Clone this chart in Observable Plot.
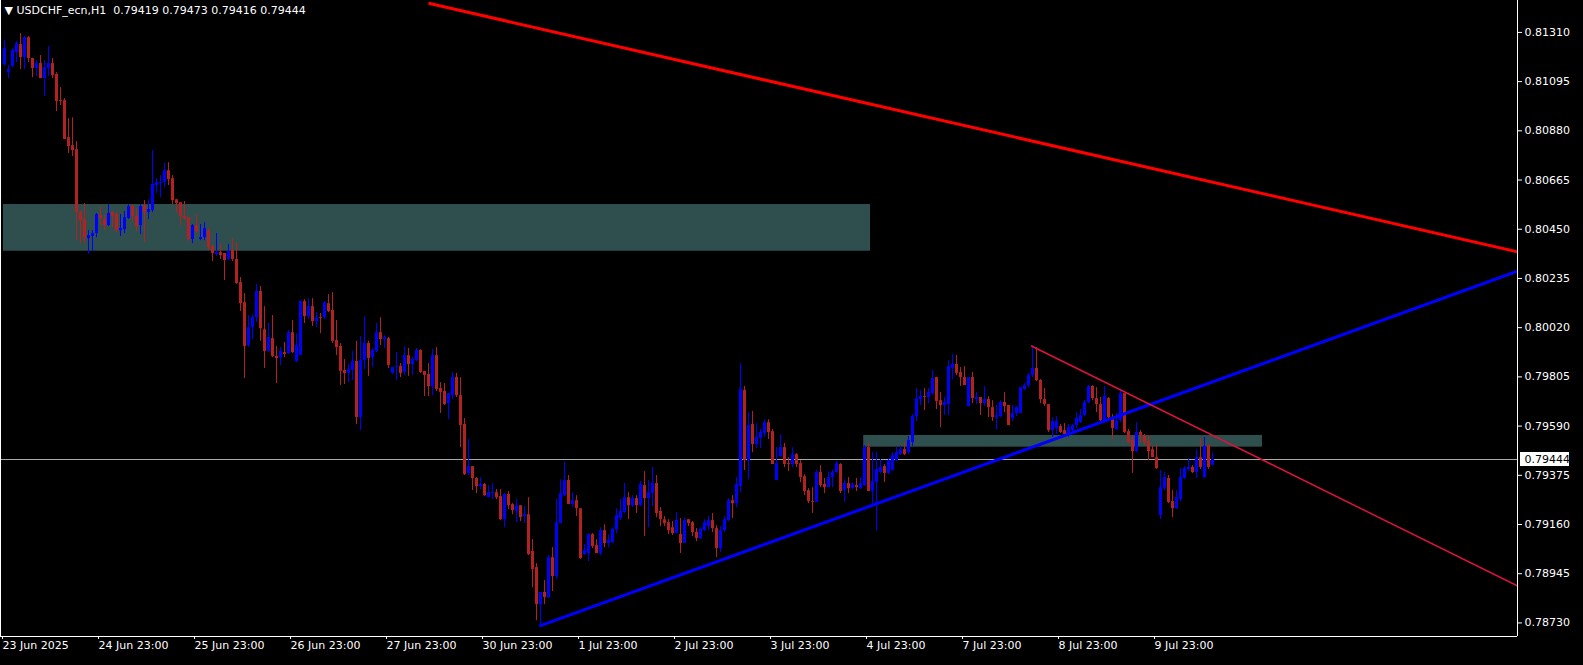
<!DOCTYPE html>
<html><head><meta charset="utf-8">
<script src="https://cdn.jsdelivr.net/npm/d3@7"></script>
<script src="https://cdn.jsdelivr.net/npm/@observablehq/plot@0.6"></script>
<style>
html,body{margin:0;padding:0;background:#000;overflow:hidden}
#chart svg{display:block}
</style></head><body><div id="chart"></div>
<script>
const headerText = "▼\u00a0USDCHF_ecn,H1\u00a0\u00a00.79419\u00a00.79473\u00a00.79416\u00a00.79444";

const openP = [
0.81170,0.81134,0.81161,0.81222,0.81257,0.81200,0.81287,0.81196,0.81152,0.81174,
0.81108,0.81152,0.81174,0.81126,0.81012,0.81012,0.80850,0.80815,0.80798,0.80523,
0.80492,0.80409,0.80418,0.80431,0.80510,0.80492,0.80466,0.80523,0.80514,0.80444,
0.80448,0.80497,0.80553,0.80506,0.80466,0.80553,0.80523,0.80532,0.80641,0.80650,
0.80654,0.80706,0.80671,0.80579,0.80566,0.80506,0.80501,0.80405,0.80466,0.80405,
0.80413,0.80444,0.80374,0.80340,0.80348,0.80344,0.80318,0.80357,0.80318,0.80217,
0.80129,0.79942,0.80020,0.80064,0.80178,0.80011,0.79916,0.79972,0.79894,0.79889,
0.79911,0.79907,0.79998,0.79872,0.79898,0.80134,0.80068,0.80112,0.80046,0.80064,
0.80064,0.80125,0.80095,0.79964,0.79938,0.79833,0.79820,0.79833,0.79872,0.79627,
0.79876,0.79951,0.79889,0.79916,0.79998,0.79968,0.79972,0.79820,0.79846,0.79850,
0.79824,0.79898,0.79859,0.79876,0.79920,0.79829,0.79816,0.79763,0.79898,0.79754,
0.79741,0.79688,0.79723,0.79802,0.79723,0.79597,0.79383,0.79413,0.79361,0.79326,
0.79335,0.79277,0.79295,0.79299,0.79282,0.79181,0.79291,0.79247,0.79217,0.79242,
0.79195,0.79203,0.79042,0.78972,0.78810,0.78863,0.78841,0.79015,0.78933,0.79164,
0.79286,0.79352,0.79247,0.79264,0.79229,0.79029,0.79033,0.79116,0.79068,0.79033,
0.79133,0.79077,0.79081,0.79138,0.79186,0.79212,0.79277,0.79242,0.79273,0.79242,
0.79330,0.79273,0.79295,0.79339,0.79217,0.79181,0.79168,0.79146,0.79120,0.79116,
0.79077,0.79181,0.79168,0.79125,0.79099,0.79133,0.79151,0.79177,0.79142,0.79055,
0.79133,0.79177,0.79264,0.79251,0.79326,0.79745,0.79439,0.79597,0.79509,0.79536,
0.79557,0.79605,0.79566,0.79352,0.79457,0.79496,0.79426,0.79422,0.79465,0.79426,
0.79369,0.79308,0.79260,0.79256,0.79387,0.79335,0.79321,0.79365,0.79387,0.79422,
0.79308,0.79339,0.79317,0.79330,0.79317,0.79330,0.79496,0.79304,0.79343,0.79387,
0.79413,0.79383,0.79396,0.79439,0.79465,0.79487,0.79474,0.79518,0.79631,0.79706,
0.79719,0.79715,0.79732,0.79802,0.79701,0.79680,0.79684,0.79842,0.79859,0.79824,
0.79802,0.79675,0.79802,0.79706,0.79715,0.79688,0.79706,0.79671,0.79627,0.79631,
0.79693,0.79680,0.79623,0.79645,0.79645,0.79750,0.79767,0.79811,0.79842,0.79789,
0.79706,0.79684,0.79570,0.79579,0.79588,0.79570,0.79553,0.79570,0.79592,0.79605,
0.79636,0.79693,0.79763,0.79710,0.79684,0.79614,0.79710,0.79627,0.79575,0.79614,
0.79732,0.79566,0.79527,0.79479,0.79562,0.79549,0.79522,0.79487,0.79452,0.79199,
0.79317,0.79361,0.79260,0.79229,0.79269,0.79361,0.79400,0.79409,0.79387,0.79452,
0.79365,0.79505,0.79419];

const highP = [
0.81274,0.81165,0.81239,0.81270,0.81305,0.81292,0.81292,0.81196,0.81187,0.81209,
0.81187,0.81248,0.81196,0.81134,0.81069,0.81021,0.80933,0.80937,0.80833,0.80532,
0.80562,0.80444,0.80444,0.80519,0.80549,0.80510,0.80558,0.80527,0.80523,0.80514,
0.80527,0.80558,0.80553,0.80540,0.80558,0.80575,0.80579,0.80794,0.80671,0.80684,
0.80737,0.80741,0.80684,0.80579,0.80566,0.80571,0.80501,0.80471,0.80514,0.80471,
0.80479,0.80453,0.80379,0.80431,0.80383,0.80344,0.80383,0.80409,0.80391,0.80239,
0.80169,0.80073,0.80073,0.80209,0.80200,0.80112,0.80038,0.80073,0.79938,0.79933,
0.79955,0.80007,0.80051,0.79994,0.80138,0.80142,0.80147,0.80147,0.80086,0.80082,
0.80134,0.80165,0.80173,0.80051,0.79951,0.79881,0.79859,0.79916,0.79960,0.79981,
0.80068,0.79960,0.79929,0.80038,0.80064,0.79985,0.79977,0.79846,0.79911,0.79863,
0.79938,0.79929,0.79889,0.79929,0.79924,0.79829,0.79863,0.79924,0.79933,0.79780,
0.79776,0.79732,0.79824,0.79820,0.79802,0.79623,0.79531,0.79413,0.79365,0.79365,
0.79339,0.79330,0.79339,0.79313,0.79313,0.79295,0.79304,0.79251,0.79269,0.79242,
0.79238,0.79277,0.79094,0.78989,0.78863,0.78915,0.79024,0.79059,0.79269,0.79356,
0.79431,0.79374,0.79299,0.79286,0.79229,0.79072,0.79120,0.79120,0.79094,0.79146,
0.79159,0.79112,0.79146,0.79229,0.79269,0.79339,0.79299,0.79286,0.79286,0.79348,
0.79391,0.79352,0.79409,0.79374,0.79234,0.79195,0.79181,0.79173,0.79212,0.79186,
0.79190,0.79181,0.79173,0.79142,0.79146,0.79181,0.79195,0.79208,0.79155,0.79151,
0.79195,0.79273,0.79286,0.79365,0.79863,0.79763,0.79649,0.79654,0.79601,0.79575,
0.79618,0.79618,0.79575,0.79496,0.79553,0.79514,0.79452,0.79496,0.79470,0.79439,
0.79378,0.79317,0.79321,0.79396,0.79417,0.79361,0.79391,0.79396,0.79435,0.79426,
0.79356,0.79365,0.79343,0.79361,0.79365,0.79505,0.79518,0.79474,0.79474,0.79444,
0.79422,0.79448,0.79474,0.79496,0.79501,0.79518,0.79544,0.79640,0.79754,0.79745,
0.79754,0.79754,0.79833,0.79802,0.79737,0.79715,0.79876,0.79903,0.79898,0.79846,
0.79850,0.79802,0.79824,0.79737,0.79715,0.79763,0.79719,0.79701,0.79680,0.79701,
0.79737,0.79680,0.79680,0.79675,0.79758,0.79776,0.79820,0.79942,0.79933,0.79793,
0.79754,0.79684,0.79627,0.79631,0.79597,0.79601,0.79597,0.79597,0.79649,0.79662,
0.79701,0.79767,0.79767,0.79758,0.79715,0.79763,0.79715,0.79640,0.79645,0.79750,
0.79732,0.79575,0.79549,0.79605,0.79570,0.79553,0.79549,0.79501,0.79509,0.79396,
0.79387,0.79374,0.79308,0.79308,0.79404,0.79413,0.79448,0.79417,0.79487,0.79536,
0.79540,0.79509,0.79473];

const lowP = [
0.81161,0.81108,0.81156,0.81178,0.81148,0.81148,0.81178,0.81112,0.81117,0.81108,
0.81030,0.81117,0.81108,0.80964,0.80990,0.80842,0.80781,0.80768,0.80400,0.80387,
0.80387,0.80340,0.80353,0.80413,0.80466,0.80444,0.80462,0.80457,0.80435,0.80418,
0.80431,0.80492,0.80484,0.80440,0.80426,0.80391,0.80492,0.80523,0.80606,0.80588,
0.80632,0.80641,0.80558,0.80523,0.80466,0.80488,0.80396,0.80387,0.80431,0.80400,
0.80400,0.80357,0.80309,0.80331,0.80318,0.80226,0.80313,0.80309,0.80209,0.80091,
0.79798,0.79933,0.79968,0.80042,0.79960,0.79842,0.79911,0.79889,0.79776,0.79854,
0.79889,0.79903,0.79907,0.79867,0.79898,0.80038,0.80055,0.80025,0.80020,0.79994,
0.80055,0.80086,0.79951,0.79898,0.79767,0.79772,0.79780,0.79789,0.79597,0.79570,
0.79837,0.79807,0.79846,0.79911,0.79942,0.79929,0.79842,0.79816,0.79789,0.79802,
0.79811,0.79807,0.79811,0.79872,0.79820,0.79719,0.79719,0.79723,0.79741,0.79645,
0.79680,0.79618,0.79706,0.79715,0.79496,0.79374,0.79374,0.79308,0.79295,0.79313,
0.79282,0.79277,0.79269,0.79269,0.79177,0.79146,0.79225,0.79203,0.79168,0.79173,
0.79164,0.79024,0.78884,0.78740,0.78714,0.78810,0.78837,0.78867,0.78920,0.79164,
0.79282,0.79247,0.79234,0.79195,0.79007,0.79024,0.78998,0.79055,0.79033,0.79024,
0.79059,0.79059,0.79077,0.79120,0.79177,0.79208,0.79181,0.79234,0.79208,0.79238,
0.79107,0.79146,0.79238,0.79190,0.79151,0.79151,0.79116,0.79112,0.79120,0.79033,
0.79077,0.79151,0.79107,0.79085,0.79094,0.79129,0.79133,0.79125,0.79015,0.79037,
0.79125,0.79173,0.79186,0.79234,0.79299,0.79396,0.79356,0.79474,0.79492,0.79492,
0.79540,0.79531,0.79422,0.79352,0.79452,0.79409,0.79391,0.79409,0.79409,0.79343,
0.79286,0.79251,0.79208,0.79256,0.79321,0.79295,0.79321,0.79321,0.79383,0.79295,
0.79256,0.79295,0.79313,0.79304,0.79313,0.79326,0.79304,0.79247,0.79133,0.79383,
0.79343,0.79378,0.79391,0.79435,0.79461,0.79461,0.79465,0.79501,0.79610,0.79680,
0.79658,0.79688,0.79723,0.79662,0.79583,0.79636,0.79636,0.79793,0.79811,0.79763,
0.79767,0.79675,0.79688,0.79684,0.79636,0.79675,0.79627,0.79610,0.79575,0.79627,
0.79649,0.79592,0.79610,0.79631,0.79645,0.79745,0.79758,0.79802,0.79785,0.79688,
0.79675,0.79562,0.79540,0.79553,0.79557,0.79544,0.79540,0.79562,0.79579,0.79601,
0.79631,0.79688,0.79701,0.79649,0.79605,0.79610,0.79623,0.79531,0.79570,0.79605,
0.79557,0.79514,0.79383,0.79474,0.79518,0.79505,0.79439,0.79452,0.79400,0.79181,
0.79308,0.79251,0.79190,0.79225,0.79260,0.79356,0.79391,0.79383,0.79361,0.79400,
0.79361,0.79400,0.79416];

const closeP = [
0.81239,0.81148,0.81231,0.81261,0.81200,0.81287,0.81196,0.81152,0.81174,0.81108,
0.81156,0.81174,0.81121,0.81008,0.81008,0.80842,0.80811,0.80794,0.80523,0.80488,
0.80409,0.80422,0.80431,0.80514,0.80497,0.80466,0.80519,0.80506,0.80444,0.80453,
0.80501,0.80549,0.80506,0.80462,0.80549,0.80523,0.80536,0.80646,0.80654,0.80654,
0.80706,0.80667,0.80575,0.80562,0.80506,0.80497,0.80405,0.80466,0.80440,0.80413,
0.80453,0.80370,0.80344,0.80348,0.80335,0.80313,0.80353,0.80318,0.80213,0.80125,
0.79938,0.80020,0.80064,0.80178,0.80016,0.79916,0.79977,0.79894,0.79885,0.79916,
0.79903,0.79998,0.79911,0.79942,0.80134,0.80068,0.80112,0.80046,0.80064,0.80060,
0.80129,0.80090,0.79960,0.79933,0.79829,0.79820,0.79837,0.79872,0.79627,0.79876,
0.79951,0.79885,0.79920,0.79998,0.79968,0.79977,0.79855,0.79846,0.79850,0.79820,
0.79898,0.79859,0.79881,0.79920,0.79824,0.79811,0.79763,0.79898,0.79750,0.79737,
0.79684,0.79732,0.79802,0.79723,0.79592,0.79378,0.79413,0.79361,0.79326,0.79335,
0.79286,0.79299,0.79299,0.79277,0.79181,0.79291,0.79242,0.79221,0.79242,0.79190,
0.79203,0.79029,0.78963,0.78810,0.78863,0.78841,0.79015,0.78933,0.79168,0.79295,
0.79352,0.79247,0.79264,0.79229,0.79011,0.79046,0.79116,0.79064,0.79033,0.79133,
0.79077,0.79090,0.79138,0.79199,0.79217,0.79277,0.79242,0.79273,0.79242,0.79335,
0.79273,0.79299,0.79339,0.79208,0.79181,0.79164,0.79133,0.79120,0.79177,0.79077,
0.79177,0.79164,0.79125,0.79099,0.79138,0.79168,0.79177,0.79142,0.79055,0.79133,
0.79181,0.79264,0.79251,0.79335,0.79750,0.79439,0.79592,0.79509,0.79540,0.79562,
0.79605,0.79562,0.79422,0.79426,0.79496,0.79422,0.79422,0.79465,0.79422,0.79365,
0.79304,0.79260,0.79256,0.79387,0.79330,0.79321,0.79365,0.79387,0.79426,0.79304,
0.79339,0.79317,0.79335,0.79321,0.79339,0.79496,0.79304,0.79348,0.79400,0.79409,
0.79383,0.79439,0.79461,0.79474,0.79487,0.79465,0.79527,0.79631,0.79710,0.79719,
0.79715,0.79737,0.79798,0.79697,0.79680,0.79693,0.79850,0.79859,0.79820,0.79802,
0.79767,0.79802,0.79710,0.79715,0.79688,0.79706,0.79671,0.79627,0.79636,0.79693,
0.79675,0.79592,0.79645,0.79671,0.79758,0.79767,0.79811,0.79842,0.79789,0.79706,
0.79684,0.79570,0.79610,0.79610,0.79562,0.79553,0.79583,0.79592,0.79623,0.79636,
0.79693,0.79763,0.79710,0.79684,0.79614,0.79719,0.79627,0.79579,0.79614,0.79732,
0.79562,0.79518,0.79479,0.79562,0.79549,0.79518,0.79479,0.79452,0.79404,0.79321,
0.79365,0.79256,0.79229,0.79277,0.79365,0.79404,0.79409,0.79387,0.79452,0.79409,
0.79501,0.79409,0.79444];

// time axis: bar index of each label, and its text
const tickBars = [0, 24, 48, 72, 96, 120, 144, 168, 192, 216, 240, 264, 288];
const tickLabels = ["23 Jun 2025", "24 Jun 23:00", "25 Jun 23:00", "26 Jun 23:00", "27 Jun 23:00",
  "30 Jun 23:00", "1 Jul 23:00", "2 Jul 23:00", "3 Jul 23:00", "4 Jul 23:00",
  "7 Jul 23:00", "8 Jul 23:00", "9 Jul 23:00"];
const priceTicks = [0.78730, 0.78945, 0.79160, 0.79375, 0.79590, 0.79805, 0.80020,
  0.80235, 0.80450, 0.80665, 0.80880, 0.81095, 0.81310];

// supply/demand zones (bar from, bar to, price top, price bottom)
const zoneFrom = [-0.25, 214.8];
const zoneTo = [216.5, 314.5];
const zoneTop = [0.80558, 0.79549];
const zoneBottom = [0.80354, 0.79498];

// trend lines: anchor points (bar, price)
const redTrend = [[106.3, 0.81436], [378.35, 0.80351]];
const blueTrend = [[134, 0.78718], [378.35, 0.80267]];
const pinkTrend = [[256.75, 0.79940], [378.35, 0.78891]];

const lastPrice = closeP[closeP.length - 1];

const xMin = -1, xMax = 378.25;
const yMin = 0.786707, yMax = 0.814494;

const bars = openP.map((o, i) => ({i, open: o, high: highP[i], low: lowP[i], close: closeP[i]}));
const zones = zoneFrom.map((f, k) => ({from: f, to: zoneTo[k], top: zoneTop[k], bottom: zoneBottom[k]}));
const labelOf = new Map(tickBars.map((b, k) => [b, tickLabels[k]]));
const candleColor = d => d.close >= d.open ? "#0000ff" : "#b22222";
const toPts = arr => arr.map(([bar, price]) => ({bar, price}));

const chart = Plot.plot({
  width: 1583, height: 665,
  marginLeft: 0, marginRight: 66, marginTop: 0, marginBottom: 29,
  style: {background: "#000000", color: "#ffffff", fontFamily: "DejaVu Sans", fontSize: "11px"},
  x: {domain: [xMin, xMax], axis: null},
  y: {domain: [yMin, yMax], axis: null},
  color: {type: "identity"},
  marks: [
    Plot.rect(zones, {x1: "from", x2: "to", y1: "bottom", y2: "top", fill: "#2f4f4f"}),
    Plot.ruleY([lastPrice], {stroke: "#a9a9a9", strokeWidth: 1}),
    Plot.ruleX(bars, {x: "i", y1: "low", y2: "high", stroke: candleColor, strokeWidth: 1}),
    Plot.ruleX(bars, {x: "i", y1: "open", y2: "close", stroke: candleColor, strokeWidth: 3}),
    Plot.line(toPts(redTrend), {x: "bar", y: "price", stroke: "#ff0000", strokeWidth: 3, clip: true}),
    Plot.line(toPts(blueTrend), {x: "bar", y: "price", stroke: "#0000ff", strokeWidth: 3, clip: true}),
    Plot.line(toPts(pinkTrend), {x: "bar", y: "price", stroke: "#dc143c", strokeWidth: 1.5, clip: true}),
    Plot.ruleX([xMax], {stroke: "#ffffff"}),
    Plot.ruleX([xMin], {stroke: "#ffffff"}),
    Plot.ruleY([yMin], {stroke: "#ffffff"}),
    Plot.axisY(priceTicks, {anchor: "right", tickFormat: d => d.toFixed(5), tickSize: 4, tickPadding: 3, fill: "#ffffff", stroke: "#ffffff"}),
    Plot.axisX(tickBars, {anchor: "bottom", tickFormat: d => labelOf.get(d), tickSize: 3, tickPadding: 2, textAnchor: "start", dx: -2, fill: "#ffffff", stroke: "#ffffff"}),
    Plot.rect([lastPrice], {x1: () => xMax, x2: () => xMax, y1: d => d, y2: d => d,
      insetLeft: 3, insetRight: -52, insetTop: -7, insetBottom: -7, fill: "#ffffff"}),
    Plot.text([lastPrice], {x: () => xMax, y: d => d, text: d => d.toFixed(5), dx: 7, textAnchor: "start", fill: "#000000"}),
    Plot.text([headerText], {frameAnchor: "top-left", dx: 4, dy: 6, text: d => d, textAnchor: "start", fill: "#ffffff"})
  ]
});
document.getElementById("chart").appendChild(chart);
</script></body></html>
